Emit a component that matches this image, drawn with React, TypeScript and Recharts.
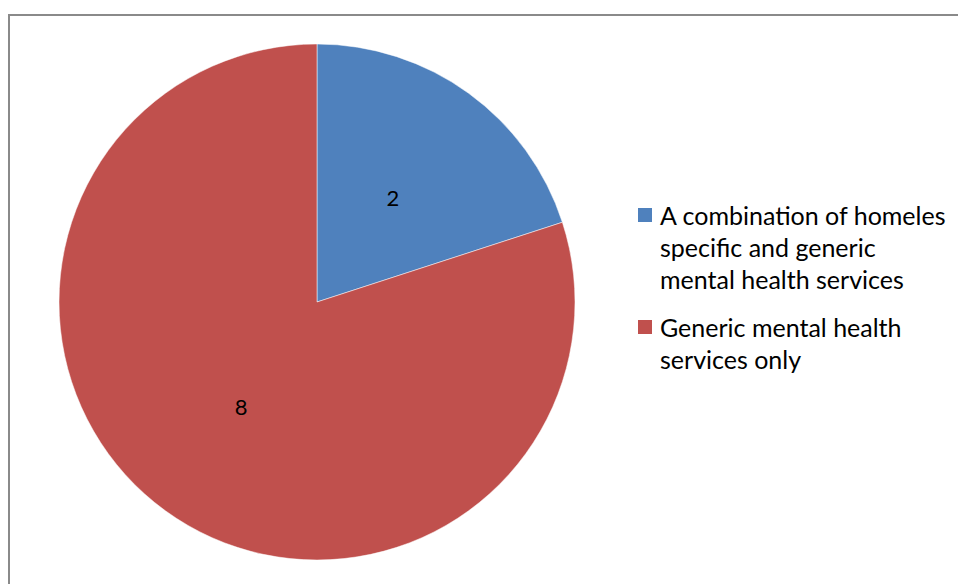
import { PieChart, Pie, Cell, Legend } from 'recharts';

const CATEGORIES = [
  'A combination of homeles specific and generic mental health services',
  'Generic mental health services only',
];
const VALUES = [2, 8];
const COLORS = ['#4F81BD', '#C0504D'];

const FONT = 'Lato, "Open Sans", sans-serif';

const data = CATEGORIES.map((name, i) => ({ name, value: VALUES[i] }));

const RADIAN = Math.PI / 180;

// value label at half radius, centred on the slice
function renderLabel(props: any) {
  const { cx, cy, midAngle, outerRadius, value } = props;
  const r = outerRadius * 0.5;
  const x = cx + r * Math.cos(-midAngle * RADIAN);
  const y = cy + r * Math.sin(-midAngle * RADIAN);
  return (
    <text x={x} y={y} fill="#000" textAnchor="middle" dominantBaseline="central" fontSize={22} fontFamily={FONT}>
      {value}
    </text>
  );
}

function LegendContent() {
  return (
    <div style={{ fontFamily: FONT, fontSize: 25, color: '#000', lineHeight: '32px' }}>
      {data.map((d, i) => (
        <div key={d.name} style={{ display: 'flex', alignItems: 'flex-start', marginBottom: i === 0 ? 16 : 0 }}>
          <div style={{ width: 14, height: 14, background: COLORS[i], marginTop: 9, marginRight: 8, flexShrink: 0 }} />
          <div style={{ width: 292 }}>{d.name}</div>
        </div>
      ))}
    </div>
  );
}

export default function App() {
  return (
    <div style={{ position: 'absolute', left: 0, top: 0, width: 958, height: 584, overflow: 'hidden', background: '#fff' }}>
      <div
        style={{
          position: 'absolute',
          left: 8,
          top: 14,
          width: 970,
          height: 600,
          border: '2px solid #8a8a8a',
          boxSizing: 'border-box',
        }}
      />
      <PieChart
        width={958}
        height={584}
        margin={{ top: 0, right: 0, bottom: 0, left: 0 }}
        style={{ position: 'absolute', left: 0, top: 0 }}
      >
        <Pie
          data={data}
          dataKey="value"
          nameKey="name"
          cx={317}
          cy={302}
          outerRadius={258}
          startAngle={90}
          endAngle={-270}
          stroke="#ffffff"
          strokeWidth={0.5}
          label={renderLabel}
          labelLine={false}
          isAnimationActive={false}
        >
          {data.map((entry, index) => (
            <Cell key={`cell-${index}`} fill={COLORS[index]} />
          ))}
        </Pie>
        <Legend
          layout="vertical"
          content={<LegendContent />}
          wrapperStyle={{ position: 'absolute', left: 638, top: 199, width: 320 }}
        />
      </PieChart>
    </div>
  );
}
